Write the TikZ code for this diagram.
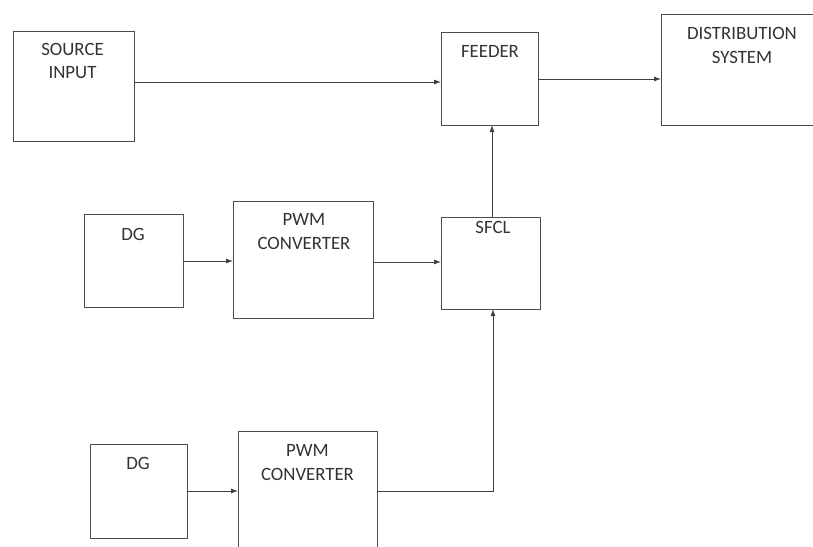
\documentclass[tikz,border=0pt]{standalone}
\usepackage{fontspec}
\setmainfont{Carlito}
\usetikzlibrary{arrows.meta}
\begin{document}
\begin{tikzpicture}[x=1pt,y=-1pt,
  box/.style={draw=black!70, line width=0.9pt, inner sep=0pt, outer sep=0pt},
  lbl/.style={anchor=base, inner sep=0pt, text=black!80, font=\fontsize{18.8}{23}\selectfont},
  conn/.style={draw=black!75, line width=0.85pt, -{Latex[length=7pt,width=5pt]}}]
\useasboundingbox (0,0) rectangle (813,546);
\clip (0,0) rectangle (813,546);
\fill[white] (0,0) rectangle (813,546);
% boxes
\node[box, minimum width=121pt, minimum height=110pt] (src) at (73.5,86) {};
\node[box, minimum width=97pt, minimum height=93pt] (feeder) at (489.5,78.5) {};
\node[box, minimum width=161pt, minimum height=111pt] (dist) at (741.5,69.5) {};
\node[box, minimum width=99pt, minimum height=92pt] (sfcl) at (490.5,263) {};
\node[box, minimum width=99pt, minimum height=93pt] (dg1) at (133.5,260.5) {};
\node[box, minimum width=140pt, minimum height=117pt] (pwm1) at (303,259.5) {};
\node[box, minimum width=97pt, minimum height=94pt] (dg2) at (138.5,491) {};
\node[box, minimum width=139pt, minimum height=169pt] (pwm2) at (307.5,515.5) {};
% labels
\node[lbl] (tsrc1) at (72.5,55.5) {SOURCE};
\node[lbl] (tsrc2) at (72.5,78.5) {INPUT};
\node[lbl] (tfeed) at (490,57) {FEEDER};
\node[lbl] (tdist1) at (742,39.5) {DISTRIBUTION};
\node[lbl] (tdist2) at (742,63) {SYSTEM};
\node[lbl] (tsfcl) at (493,233) {SFCL};
\node[lbl] (tdg1) at (133,240) {DG};
\node[lbl] (tpwm1a) at (304,225) {PWM};
\node[lbl] (tpwm1b) at (304,249) {CONVERTER};
\node[lbl] (tdg2) at (138,469) {DG};
\node[lbl] (tpwm2a) at (307.5,456) {PWM};
\node[lbl] (tpwm2b) at (307.5,480) {CONVERTER};
% connectors
\coordinate (bend) at (493,491);
\draw[conn] (src.east |- 0,82) -- (feeder.west |- 0,82);
\draw[conn] (feeder.east |- 0,79) -- (dist.west |- 0,79);
\draw[conn] (sfcl.north -| 492,0) -- (feeder.south -| 492,0);
\draw[conn] (dg1.east |- 0,261) -- (pwm1.west |- 0,261);
\draw[conn] (pwm1.east |- 0,262) -- (sfcl.west |- 0,262);
\draw[conn] (dg2.east |- 0,491) -- (pwm2.west |- 0,491);
\draw[conn] (pwm2.east |- bend) -- (bend) -- (sfcl.south -| bend);
\end{tikzpicture}
\end{document}
